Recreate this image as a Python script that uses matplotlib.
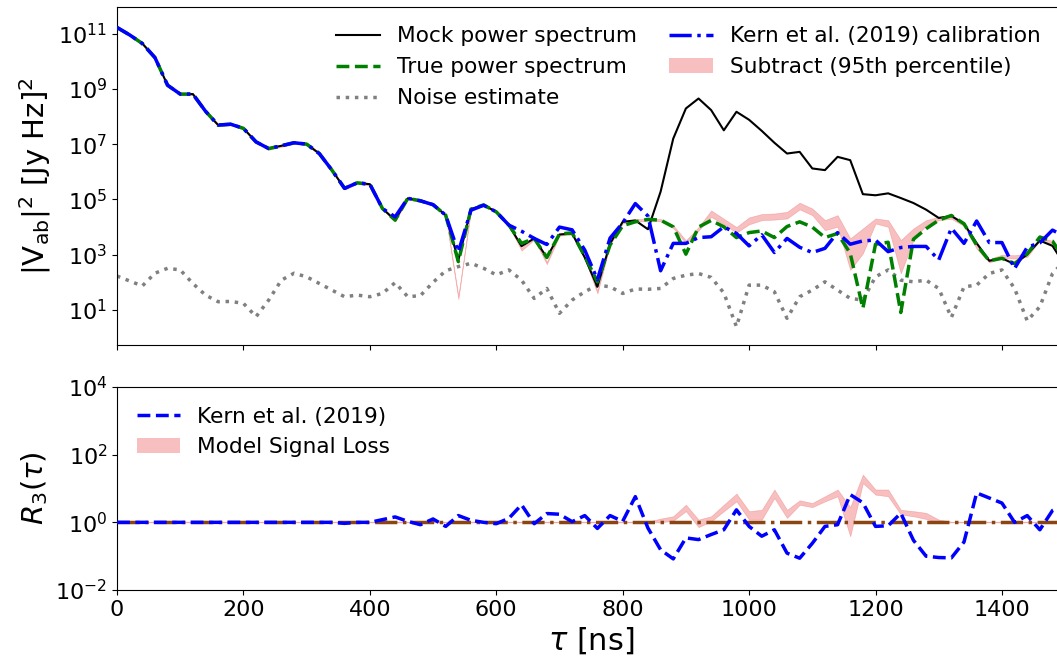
import numpy as np
import matplotlib
matplotlib.use('Agg')
import matplotlib.pyplot as plt
from matplotlib.patches import Patch
from matplotlib.lines import Line2D
from matplotlib.ticker import FixedLocator, NullLocator

# delays [ns], one every 20 ns
tau = np.arange(76) * 20

# top panel, values as log10 of |V_ab|^2 [Jy Hz]^2
mock_log = [11.22, 10.95, 10.64, 10.13, 9.13, 8.81, 8.81, 8.19, 7.69, 7.72,
            7.57, 7.08, 6.84, 6.94, 7.05, 7.00, 6.66, 6.06, 5.40, 5.60,
            5.55, 4.67, 4.25, 5.04, 4.95, 4.81, 4.43, 2.80, 4.65, 4.80,
            4.55, 4.07, 3.31, 3.59, 2.90, 3.73, 3.77, 2.90, 1.84, 3.40,
            4.19, 4.24, 3.92, 5.28, 7.20, 8.29, 8.65, 8.23, 7.50, 8.17,
            7.88, 7.48, 7.05, 6.66, 6.72, 6.12, 6.06, 6.54, 6.42, 5.19,
            5.15, 5.22, 5.05, 4.87, 4.63, 4.33, 4.40, 4.12, 3.42, 2.78,
            2.87, 2.66, 3.01, 3.51, 3.32, 2.60]

true_log = [11.22, 10.95, 10.64, 10.13, 9.13, 8.81, 8.81, 8.19, 7.69, 7.72,
            7.57, 7.08, 6.84, 6.94, 7.05, 7.00, 6.66, 6.06, 5.40, 5.60,
            5.55, 4.67, 4.25, 5.04, 4.95, 4.81, 4.43, 2.75, 4.65, 4.80,
            4.55, 4.07, 3.41, 3.59, 2.90, 3.75, 3.79, 2.95, 2.02, 3.35,
            4.05, 4.19, 4.28, 4.25, 4.01, 3.02, 4.00, 4.24, 4.01, 3.62,
            3.80, 3.86, 3.62, 4.02, 4.19, 4.00, 3.62, 3.77, 3.05, 1.06,
            3.38, 3.45, 0.91, 3.56, 3.94, 4.25, 4.42, 4.12, 3.35, 2.78,
            2.87, 2.68, 3.03, 3.64, 3.49, 2.81]

noise_log = [2.23, 2.05, 1.87, 2.33, 2.51, 2.45, 1.96, 1.54, 1.30, 1.31,
             1.24, 0.76, 1.36, 2.08, 2.33, 2.20, 1.96, 1.72, 1.48, 1.54,
             1.48, 1.60, 1.99, 1.48, 1.52, 2.00, 2.42, 2.57, 2.69, 2.51,
             2.27, 2.45, 2.08, 1.42, 1.78, 0.88, 1.36, 1.66, 1.90, 1.84,
             1.60, 1.76, 1.75, 1.78, 2.14, 2.26, 2.32, 2.18, 1.62, 0.40,
             1.90, 1.90, 1.66, 0.70, 1.48, 1.72, 2.02, 1.72, 1.42, 1.36,
             2.20, 2.45, 2.08, 2.02, 2.08, 1.78, 0.73, 1.84, 1.90, 2.32,
             2.45, 1.78, 0.61, 1.12, 2.32, 2.80]

kern_log = [11.22, 10.95, 10.64, 10.13, 9.13, 8.81, 8.81, 8.19, 7.69, 7.72,
            7.57, 7.08, 6.84, 6.94, 7.05, 7.00, 6.66, 6.06, 5.40, 5.60,
            5.55, 4.67, 4.37, 5.04, 4.95, 4.81, 4.43, 3.10, 4.61, 4.79,
            4.55, 4.07, 3.85, 3.59, 3.37, 4.00, 3.90, 3.17, 2.10, 3.60,
            4.15, 4.85, 4.40, 2.42, 3.41, 3.41, 3.62, 3.65, 4.01, 3.77,
            3.32, 3.72, 3.08, 3.59, 3.27, 3.08, 3.23, 3.80, 3.38, 3.50,
            3.53, 3.11, 3.26, 3.30, 3.30, 2.81, 3.96, 3.41, 4.22, 3.44,
            3.44, 2.50, 3.27, 3.43, 3.89, 3.65]

sub_lo_log = [11.18, 10.91, 10.60, 10.09, 9.09, 8.77, 8.77, 8.15, 7.65, 7.68,
              7.53, 7.04, 6.80, 6.90, 7.01, 6.96, 6.62, 6.02, 5.36, 5.56,
              5.51, 4.63, 4.21, 5.00, 4.91, 4.77, 4.39, 1.40, 4.62, 4.76,
              4.51, 4.03, 3.15, 3.55, 2.66, 3.69, 3.73, 2.86, 1.60, 3.36,
              4.13, 4.20, 4.22, 4.21, 3.96, 3.42, 3.88, 4.37, 4.10, 3.80,
              4.10, 4.25, 4.27, 4.31, 4.64, 4.43, 3.89, 4.01, 2.45, 3.05,
              4.13, 4.01, 2.33, 3.53, 4.07, 4.25, 4.30, 4.04, 3.22, 2.72,
              2.88, 2.86, 2.92, 3.52, 3.38, 2.45]

sub_hi_log = [11.26, 10.99, 10.68, 10.17, 9.17, 8.85, 8.85, 8.23, 7.73, 7.76,
              7.61, 7.12, 6.88, 6.98, 7.09, 7.04, 6.70, 6.10, 5.44, 5.64,
              5.59, 4.71, 4.29, 5.08, 4.99, 4.85, 4.47, 1.50, 4.70, 4.84,
              4.59, 4.11, 3.25, 3.63, 2.74, 3.77, 3.81, 2.94, 1.70, 3.44,
              4.21, 4.28, 4.30, 4.29, 4.06, 3.52, 4.00, 4.60, 4.30, 4.00,
              4.35, 4.47, 4.49, 4.55, 4.88, 4.67, 4.25, 4.43, 3.59, 3.95,
              4.31, 4.25, 3.53, 3.95, 4.25, 4.37, 4.44, 4.16, 3.38, 2.84,
              3.00, 2.98, 3.04, 3.62, 3.50, 2.60]

# bottom panel, log10 of R_3(tau)
r3_kern_log = [0.0, 0.0, 0.0, 0.0, 0.0, 0.0, 0.0, 0.0, 0.0, 0.0,
               0.0, 0.0, 0.0, 0.0, 0.0, 0.0, 0.0, 0.0, -0.03, 0.0,
               0.0, 0.08, 0.16, 0.03, -0.07, 0.10, -0.12, 0.20, 0.06, 0.0,
               -0.04, 0.12, 0.52, -0.04, 0.26, 0.24, 0.02, 0.20, -0.18, 0.20,
               0.03, 0.76, -0.17, -0.81, -1.08, -0.46, -0.51, -0.36, -0.22, 0.37,
               -0.12, -0.41, -0.22, -0.91, -1.06, -0.62, -0.12, -0.07, 0.82, 0.58,
               -0.12, -0.10, 0.27, -0.53, -1.00, -1.04, -1.05, -0.58, 0.87, 0.72,
               0.57, 0.0, 0.20, -0.22, 0.35, 0.52]

loss_lo_log = [0.0] * 43 + [0.0, 0.05, 0.33, -0.14, 0.03, 0.33, 0.62, 0.08, 0.08, 0.72,
                            0.13, 0.52, 0.45, 0.62, 0.77, -0.41, 1.16, 0.82, 0.77, 0.23,
                            0.18, 0.10, 0.0] + [0.0] * 10
loss_hi_log = [0.02] * 43 + [0.11, 0.18, 0.52, 0.08, 0.18, 0.52, 0.85, 0.33, 0.37, 0.97,
                             0.37, 0.65, 0.57, 0.77, 0.97, 0.45, 1.41, 0.97, 0.97, 0.37,
                             0.33, 0.28, 0.08] + [0.02] * 10

ones = [1.0] * len(tau)

pink = '#f08080'

fig = plt.figure(figsize=(10.57, 6.66), dpi=100)
ax1 = fig.add_axes([0.1107, 0.482, 0.897, 0.5075])
ax2 = fig.add_axes([0.1107, 0.1141, 0.897, 0.3048])

# top panel
ax1.fill_between(tau, 10**np.array(sub_lo_log), 10**np.array(sub_hi_log),
                 color=pink, alpha=0.5, lw=0.5, zorder=1)
ax1.plot(tau, 10**np.array(noise_log), ':', color='gray', lw=2.5, zorder=2)
ax1.plot(tau, 10**np.array(mock_log), '-', color='black', lw=1.5, zorder=3)
ax1.plot(tau, 10**np.array(true_log), '--', color='green', lw=2.5, zorder=4)
ax1.plot(tau, 10**np.array(kern_log), '-.', color='blue', lw=2.5, zorder=5)

ax1.set_yscale('log')
ax1.set_ylim(10**-0.265, 10**11.96)
ax1.set_xlim(0, 1500)
ax1.yaxis.set_major_locator(FixedLocator([1e1, 1e3, 1e5, 1e7, 1e9, 1e11]))
ax1.yaxis.set_minor_locator(NullLocator())
ax1.set_xticks(np.arange(0, 1500, 200))
ax1.tick_params(labelbottom=False, labelsize=16)
ax1.set_ylabel(r'$|\mathrm{V}_{\mathrm{ab}}|^2$ [Jy Hz]$^2$', fontsize=21)

handles = [Line2D([], [], color='black', lw=1.5),
           Line2D([], [], color='green', ls='--', lw=2.5),
           Line2D([], [], color='gray', ls=':', lw=2.5),
           Line2D([], [], color='blue', ls='-.', lw=2.5),
           Patch(facecolor=pink, alpha=0.5)]
labels = ['Mock power spectrum', 'True power spectrum', 'Noise estimate',
          'Kern et al. (2019) calibration', 'Subtract (95th percentile)']
ax1.legend(handles, labels, ncol=2, frameon=False, fontsize=15.6,
           loc='upper right', bbox_to_anchor=(0.995, 1.0), columnspacing=1.5)

# bottom panel
ax2.fill_between(tau, 10**np.array(loss_lo_log), 10**np.array(loss_hi_log),
                 color=pink, alpha=0.5, lw=0.5, zorder=1)
ax2.plot(tau, 10**np.array(r3_kern_log), '--', color='blue', lw=2.5, zorder=3)
ax2.plot(tau, ones, '-.', color='saddlebrown', lw=2.5, zorder=2)

ax2.set_yscale('log')
ax2.set_ylim(1e-2, 1e4)
ax2.set_xlim(0, 1500)
ax2.yaxis.set_major_locator(FixedLocator([1e-2, 1e0, 1e2, 1e4]))
ax2.yaxis.set_minor_locator(NullLocator())
ax2.set_xticks(np.arange(0, 1500, 200))
ax2.tick_params(labelsize=16)
ax2.set_ylabel(r'$R_3(\tau)$', fontsize=21)
ax2.set_xlabel(r'$\tau$ [ns]', fontsize=22)

handles2 = [Line2D([], [], color='blue', ls='--', lw=2.5),
            Patch(facecolor=pink, alpha=0.5)]
ax2.legend(handles2, ['Kern et al. (2019)', 'Model Signal Loss'],
           frameon=False, fontsize=15.6, loc='upper left')

fig.savefig('out.png', dpi=100)
